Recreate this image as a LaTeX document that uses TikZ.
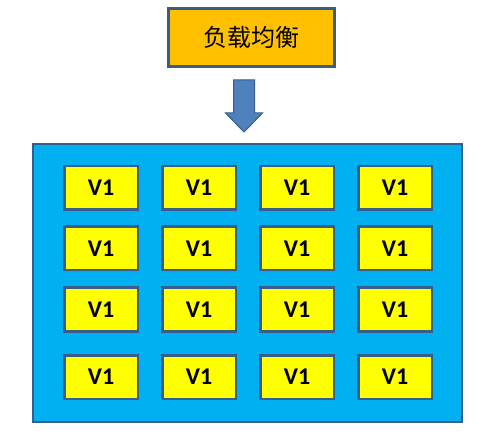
\documentclass[tikz,border=0pt]{standalone}
\usepackage{fontspec}
\setmainfont{Carlito}
\newfontfamily\cjk{Noto Sans CJK SC}
\definecolor{edgeblue}{HTML}{385D8A}
\definecolor{lbfill}{HTML}{FFC000}
\definecolor{poolfill}{HTML}{00B0F0}
\definecolor{vmfill}{HTML}{FFFF00}
\definecolor{arrowfill}{HTML}{4F81BD}

\begin{document}
\begin{tikzpicture}[x=1pt,y=-1pt]
    \useasboundingbox (0,0) rectangle (488,441);

    \node[draw=edgeblue, line width=2.5pt, fill=lbfill, inner sep=0, minimum width=166pt, minimum height=58pt] (LB) at (251.5, 37.5) {\cjk\fontsize{24}{28}\selectfont 负载均衡};

    \draw[draw=edgeblue, line width=1pt, fill=arrowfill] (233.5, 80) -- (254.5, 80) -- (254.5, 113) -- (262.5, 113) -- (244, 132) -- (225.5, 113) -- (233.5, 113) -- cycle;

    \node[draw=edgeblue, line width=2pt, fill=poolfill, minimum width=429pt, minimum height=278pt] (P) at (247.5, 283) {};

    \begin{scope}[every node/.style={draw=edgeblue,line width=2.5pt,fill=vmfill,minimum width=73.5pt,minimum height=43.5pt,inner sep=0,font=\bfseries\fontsize{24}{28}\selectfont}]
        \node (A_1) at (101, 188) {V1};
        \node (A_2) at (199, 188) {V1};
        \node (A_3) at (297, 188) {V1};
        \node (A_4) at (395, 188) {V1};

        \node (B_1) at (101, 248.5) {V1};
        \node (B_2) at (199, 248.5) {V1};
        \node (B_3) at (297, 248.5) {V1};
        \node (B_4) at (395, 248.5) {V1};

        \node (C_1) at (101, 309.5) {V1};
        \node (C_2) at (199, 309.5) {V1};
        \node (C_3) at (297, 309.5) {V1};
        \node (C_4) at (395, 309.5) {V1};

        \node (D_1) at (101, 377) {V1};
        \node (D_2) at (199, 377) {V1};
        \node (D_3) at (297, 377) {V1};
        \node (D_4) at (395, 377) {V1};
    \end{scope}
\end{tikzpicture}
\end{document}
